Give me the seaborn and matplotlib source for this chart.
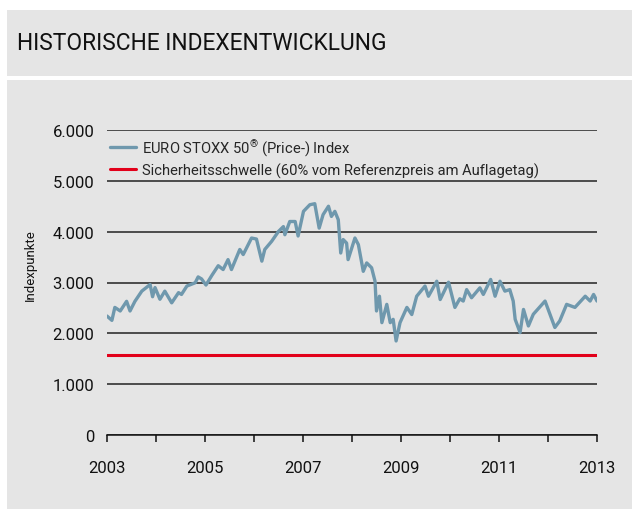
import numpy as np
import pandas as pd
import matplotlib
matplotlib.use("Agg")
import matplotlib.pyplot as plt
import seaborn as sns
from matplotlib.patches import Rectangle
from matplotlib.ticker import FuncFormatter, FixedLocator, MultipleLocator

# EURO STOXX 50 index level (decimal year, index points)
years = [
    2003.00, 2003.10, 2003.16, 2003.27, 2003.40, 2003.47, 2003.57, 2003.71, 2003.88, 2003.93,
    2003.98, 2004.08, 2004.18, 2004.32, 2004.46, 2004.52, 2004.63, 2004.80, 2004.86, 2004.93,
    2005.02, 2005.14, 2005.27, 2005.37, 2005.47, 2005.54, 2005.71, 2005.78, 2005.95, 2006.05,
    2006.16, 2006.22, 2006.36, 2006.50, 2006.60, 2006.63, 2006.73, 2006.84, 2006.90, 2007.01,
    2007.14, 2007.24, 2007.33, 2007.41, 2007.52, 2007.58, 2007.65, 2007.72, 2007.77, 2007.82,
    2007.89, 2007.92, 2008.06, 2008.13, 2008.23, 2008.30, 2008.40, 2008.47, 2008.50, 2008.56,
    2008.61, 2008.71, 2008.78, 2008.84, 2008.90, 2008.98, 2009.12, 2009.22, 2009.32, 2009.49,
    2009.56, 2009.73, 2009.80, 2009.97, 2010.10, 2010.20, 2010.27, 2010.34, 2010.44, 2010.61,
    2010.68, 2010.83, 2010.92, 2011.02, 2011.12, 2011.22, 2011.29, 2011.33, 2011.43, 2011.50,
    2011.60, 2011.70, 2011.94, 2012.04, 2012.14, 2012.24, 2012.38, 2012.55, 2012.76, 2012.86,
    2012.93, 2013.00,
]
index_values = [
    2340, 2255, 2510, 2440, 2630, 2440, 2630, 2830, 2960, 2720,
    2900, 2670, 2830, 2600, 2800, 2765, 2930, 2995, 3110, 3070,
    2950, 3140, 3330, 3255, 3450, 3255, 3650, 3550, 3875, 3855,
    3420, 3650, 3810, 4005, 4100, 3940, 4200, 4200, 3915, 4400,
    4530, 4550, 4070, 4335, 4500, 4300, 4400, 4235, 3580, 3845,
    3775, 3450, 3875, 3745, 3220, 3385, 3290, 3025, 2440, 2730,
    2210, 2570, 2210, 2275, 1850, 2210, 2510, 2370, 2730, 2930,
    2730, 3025, 2665, 3005, 2510, 2680, 2635, 2860, 2700, 2895,
    2765, 3060, 2730, 3025, 2830, 2860, 2635, 2275, 2015, 2470,
    2145, 2375, 2635, 2375, 2115, 2245, 2570, 2510, 2730, 2635,
    2765, 2635,
]
threshold = 1570  # 60% vom Referenzpreis

year_ticks = [2003, 2005, 2007, 2009, 2011, 2013]
index_label = "EURO STOXX 50$^{\u00ae}$ (Price-) Index"
threshold_label = "Sicherheitsschwelle (60% vom Referenzpreis am Auflagetag)"

df = pd.DataFrame({"Jahr": years, "Indexpunkte": index_values})

sns.set_theme(style="white")
plt.rcParams["font.family"] = ["Roboto", "DejaVu Sans"]
plt.rcParams["mathtext.fontset"] = "custom"
plt.rcParams["mathtext.rm"] = "Roboto"
plt.rcParams["mathtext.it"] = "Roboto"
plt.rcParams["mathtext.default"] = "regular"

fig = plt.figure(figsize=(6.32, 5.10), dpi=100)
fig.patch.set_facecolor("white")

panel = "#e5e5e5"
fig.patches.append(Rectangle((7 / 632, 1 - 77 / 510), 625 / 632, 66 / 510,
                             transform=fig.transFigure, facecolor=panel, edgecolor="none", zorder=-1))
fig.patches.append(Rectangle((7 / 632, 0), 625 / 632, 1 - 81 / 510,
                             transform=fig.transFigure, facecolor=panel, edgecolor="none", zorder=-1))

fig.text(17 / 632, 1 - 44 / 510, "HISTORISCHE INDEXENTWICKLUNG", fontsize=16.4,
         va="center", ha="left", color="#111111")

ax = fig.add_axes([107 / 632, 1 - 436 / 510, 490 / 632, 305 / 510])
ax.set_zorder(1)
ax.set_facecolor(panel)

sns.lineplot(data=df, x="Jahr", y="Indexpunkte", ax=ax, color="#6f98ad",
             linewidth=2.4, label=index_label, zorder=3)
ax.axhline(threshold, color="#e2001a", linewidth=2.2, label=threshold_label, zorder=2)

ax.set_xlim(year_ticks[0], year_ticks[-1])
ax.set_ylim(0, 6000)
ax.yaxis.set_major_locator(MultipleLocator(1000))
ax.yaxis.set_major_formatter(FuncFormatter(lambda v, p: f"{int(v):,}".replace(",", ".")))
ax.xaxis.set_major_locator(FixedLocator(year_ticks))
ax.xaxis.set_minor_locator(FixedLocator([y + 1 for y in year_ticks[:-1]]))
ax.xaxis.set_major_formatter(FuncFormatter(lambda v, p: f"{int(v)}"))

ax.grid(axis="y", color="#222222", linewidth=1.1)
ax.set_axisbelow(True)
for s in ["top", "right", "left"]:
    ax.spines[s].set_visible(False)
ax.spines["bottom"].set_color("#111111")
ax.spines["bottom"].set_linewidth(1.1)

ax.tick_params(axis="y", length=0, pad=9, labelsize=12, labelcolor="#111111")
ax.tick_params(axis="x", which="both", direction="out", length=5, width=1.1,
               color="#111111", bottom=True, pad=13, labelsize=12, labelcolor="#111111")

ax.set_xlabel("")
ax.set_ylabel("")
fig.text(30 / 632, 1 - 265 / 510, "Indexpunkte", rotation=90, fontsize=9.5,
         ha="center", va="center", color="#111111")

ax.legend(loc="upper left", bbox_to_anchor=(0.006, 0.975), frameon=False,
          fontsize=10.6, handlelength=1.75, handletextpad=0.4, labelspacing=0.28,
          borderpad=0, borderaxespad=0)

fig.savefig("out.png", dpi=100, facecolor=fig.get_facecolor())
